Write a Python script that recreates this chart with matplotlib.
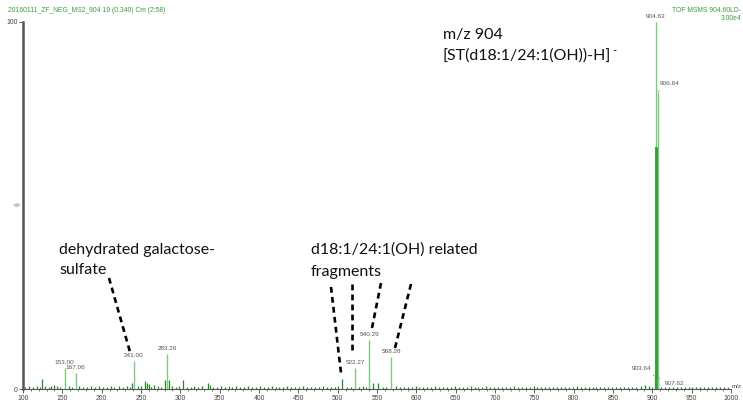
import matplotlib.pyplot as plt
from matplotlib.lines import Line2D
from matplotlib.ticker import MultipleLocator

# labelled peaks (m/z, relative intensity %)
label_mz = [153.00, 167.06, 241.00, 283.26, 522.27, 540.29, 568.28, 903.64, 904.63, 906.64, 907.62]
label_int = [5.8, 4.4, 7.6, 9.5, 5.7, 13.4, 8.7, 3.5, 100.0, 81.0, 3.0]

# other visible peaks without labels
other_mz = [124.0, 139.0, 239.0, 255.0, 257.0, 260.0, 267.0, 280.0, 285.0, 304.0,
            335.0, 338.0, 362.0, 401.0, 505.0, 545.0, 551.0, 886.0, 905.63]
other_int = [2.7, 1.2, 1.6, 2.2, 1.5, 1.4, 1.0, 2.5, 2.4, 2.5,
             1.5, 1.0, 0.8, 0.7, 2.7, 1.6, 1.5, 0.9, 66.0]

# baseline noise
noise_mz = [103, 108, 113, 118, 121, 128, 133, 136, 143, 147, 158, 162, 171, 176, 181,
            186, 191, 196, 202, 207, 212, 216, 222, 227, 232, 236, 246, 250, 263, 271,
            276, 289, 294, 298, 309, 314, 318, 323, 328, 342, 347, 352, 357, 366, 371,
            376, 381, 386, 391, 396, 406, 411, 416, 421, 426, 431, 436, 441, 446, 451,
            456, 461, 466, 471, 476, 481, 486, 491, 496, 501, 512, 517, 527, 532, 536,
            557, 562, 574, 579, 584, 589, 594, 599, 604, 609, 614, 619, 624, 629, 634,
            639, 644, 649, 654, 659, 664, 669, 674, 679, 684, 689, 694, 699, 704, 709,
            714, 719, 724, 729, 734, 739, 744, 749, 754, 759, 764, 769, 774, 779, 784,
            789, 794, 799, 804, 809, 814, 819, 824, 829, 834, 839, 844, 849, 854, 859,
            864, 869, 874, 879, 891, 896, 900, 911, 916, 921, 926, 931, 936, 941, 946,
            951, 956, 961, 966, 971, 976, 981, 986, 991, 996]
noise_int = [0.6, 0.8, 0.5, 0.7, 0.6, 0.8, 0.5, 0.7, 0.9, 0.6, 0.7, 0.5, 0.8, 0.6, 0.5,
             0.7, 0.6, 0.8, 0.5, 0.6, 0.7, 0.5, 0.8, 0.6, 0.7, 0.5, 0.8, 0.7, 0.6, 0.8,
             0.6, 0.7, 0.5, 0.8, 0.6, 0.5, 0.7, 0.6, 0.8, 0.6, 0.5, 0.7, 0.6, 0.5, 0.7,
             0.6, 0.5, 0.7, 0.6, 0.5, 0.6, 0.5, 0.7, 0.6, 0.5, 0.6, 0.7, 0.5, 0.6, 0.5,
             0.7, 0.6, 0.5, 0.6, 0.5, 0.7, 0.6, 0.5, 0.6, 0.7, 0.6, 0.5, 0.6, 0.7, 0.5,
             0.6, 0.5, 0.7, 0.6, 0.5, 0.6, 0.5, 0.7, 0.6, 0.5, 0.6, 0.5, 0.7, 0.6, 0.5,
             0.6, 0.5, 0.7, 0.6, 0.5, 0.6, 0.7, 0.5, 0.6, 0.5, 0.7, 0.6, 0.5, 0.6, 0.5,
             0.6, 0.5, 0.7, 0.6, 0.5, 0.6, 0.5, 0.7, 0.6, 0.5, 0.6, 0.5, 0.6, 0.5, 0.6,
             0.5, 0.6, 0.5, 0.7, 0.6, 0.5, 0.6, 0.5, 0.6, 0.5, 0.6, 0.5, 0.6, 0.5, 0.6,
             0.5, 0.6, 0.5, 0.6, 1.0, 0.7, 0.6, 0.6, 0.5, 0.6, 0.5, 0.6, 0.5, 0.6, 0.5,
             0.6, 0.5, 0.6, 0.5, 0.6, 0.5, 0.6, 0.5, 0.6, 0.5]

# where each peak label sits (offset in points from the peak top)
label_offset = {903.64: (-10, 4), 906.64: (9, 4), 907.62: (12, -6)}

W, H = 743, 404
fig = plt.figure(figsize=(W / 100, H / 100), dpi=100)
ax = fig.add_axes([23 / W, 1 - 389 / H, (731 - 23) / W, (389 - 22) / H])

light = '#7dcb7d'
dark = '#1e8c1e'
ax.vlines(noise_mz, 0, noise_int, color=dark, lw=0.9)
ax.vlines(other_mz, 0, other_int, color=dark, lw=0.9)
ax.vlines(label_mz, 0, label_int, color=light, lw=1.0)
ax.vlines([904.63], 0, [66.0], color='#229a22', lw=1.2)

for mz, inten in zip(label_mz, label_int):
    dx, dy = label_offset.get(mz, (0, 2))
    arrow = dict(arrowstyle='-', color='#888888', lw=0.5) if mz in label_offset else None
    ax.annotate(f'{mz:.2f}', (mz, inten), xytext=(dx, dy), textcoords='offset points',
                ha='center', va='bottom', fontsize=4.6, color='#555555',
                family='Liberation Sans', arrowprops=arrow)

ax.set_xlim(100, 1000)
ax.set_ylim(0, 100)
ax.xaxis.set_major_locator(MultipleLocator(50))
ax.xaxis.set_minor_locator(MultipleLocator(10))
ax.set_yticks([0, 100])
for s in ['top', 'right']:
    ax.spines[s].set_visible(False)
ax.spines['left'].set_color('#555555')
ax.spines['left'].set_linewidth(1.8)
ax.spines['bottom'].set_color('#555555')
ax.spines['bottom'].set_linewidth(0.8)
ax.tick_params(axis='both', labelsize=4.9, colors='#444444', length=3, width=0.6, pad=1)
ax.tick_params(axis='x', which='minor', length=1.5, width=0.5, colors='#444444')
for t in ax.get_xticklabels() + ax.get_yticklabels():
    t.set_family('Liberation Sans')
fig.text(732 / W, 1 - 389 / H, 'm/z', fontsize=4.5, color='#444444',
         family='Liberation Sans', ha='left', va='bottom')
fig.text(17 / W, 1 - 205 / H, '%', fontsize=4.5, color='#666666', rotation=30,
         family='Liberation Sans', ha='center', va='center')

# header lines
green = '#3c9c3c'
fig.text(8 / W, 1 - 11 / H, '20160111_ZF_NEG_MS2_904 19 (0.340) Cm (2:58)', fontsize=4.9,
         color=green, family='Liberation Sans', va='center')
fig.text(741 / W, 1 - 10 / H, 'TOF MSMS 904.60LD-', fontsize=4.9, color=green,
         family='Liberation Sans', ha='right', va='center')
fig.text(741 / W, 1 - 19 / H, '3.00e4', fontsize=4.9, color=green,
         family='Liberation Sans', ha='right', va='center')

# annotations
big = dict(fontsize=11.5, family='Lato', color='#111111', va='center', ha='left')
fig.text(443 / W, 1 - 35 / H, 'm/z 904', **big)
ion = fig.text(443 / W, 1 - 56 / H, '[ST(d18:1/24:1(OH))-H]', **big)
fig.canvas.draw()
bb = ion.get_window_extent().transformed(fig.transFigure.inverted())
fig.text(bb.x1 + 1 / W, 1 - 54 / H, '-', fontsize=8, family='Lato', color='#111111',
         ha='left', va='baseline')
fig.text(59 / W, 1 - 250 / H, 'dehydrated galactose-', **big)
fig.text(59 / W, 1 - 270 / H, 'sulfate', **big)
fig.text(311 / W, 1 - 250 / H, 'd18:1/24:1(OH) related', **big)
fig.text(311 / W, 1 - 272 / H, 'fragments', **big)

pointers = [((109, 278), (130, 352)),
            ((331, 287), (341, 373)),
            ((352, 284), (352, 353)),
            ((381, 283), (372, 328)),
            ((411, 284), (395, 348))]
for (x0, y0), (x1, y1) in pointers:
    fig.add_artist(Line2D([x0 / W, x1 / W], [1 - y0 / H, 1 - y1 / H], transform=fig.transFigure,
                          color='black', lw=1.9, ls=(0, (2.2, 1.6))))

fig.savefig('out.png', dpi=100)
